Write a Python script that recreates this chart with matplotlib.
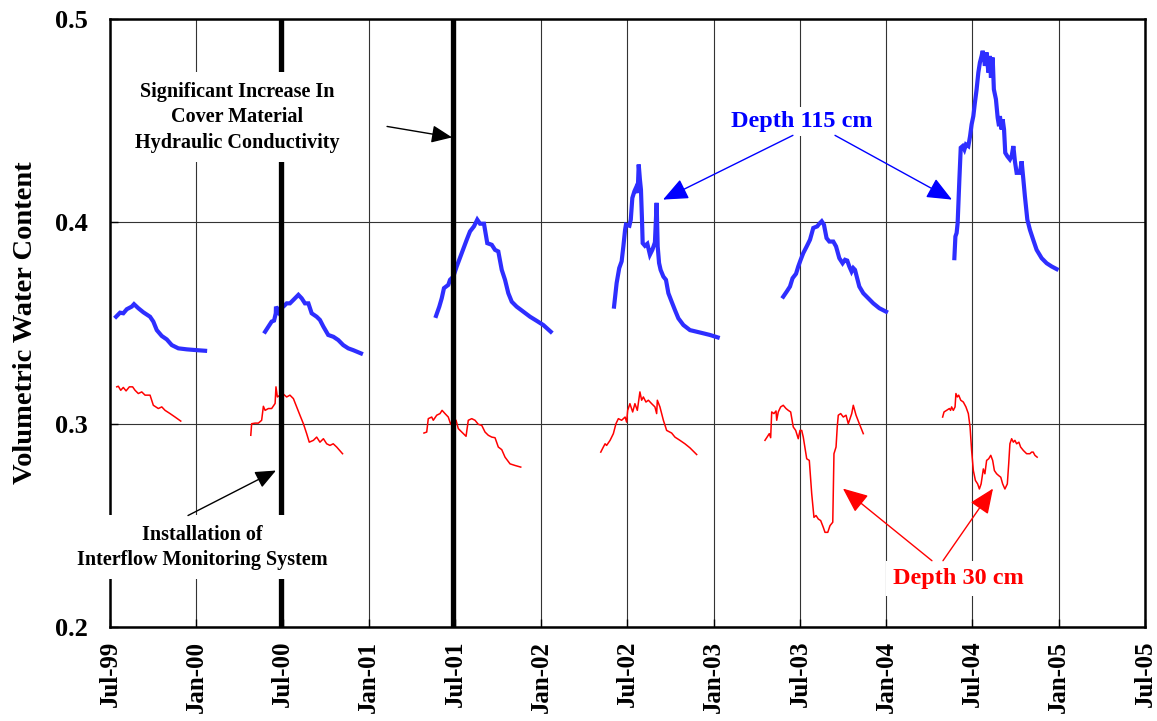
import matplotlib
matplotlib.use("Agg")
import matplotlib.pyplot as plt

plt.rcParams['font.family'] = ['Liberation Serif', 'DejaVu Serif']
plt.rcParams['font.weight'] = 'bold'

# time axis in decimal years, values are volumetric water content
tick_pos = [1999.5, 2000.0, 2000.5, 2001.0, 2001.5, 2002.0, 2002.5,
            2003.0, 2003.5, 2004.0, 2004.5, 2005.0, 2005.5]
tick_labels = ["Jul-99", "Jan-00", "Jul-00", "Jan-01", "Jul-01", "Jan-02", "Jul-02",
               "Jan-03", "Jul-03", "Jan-04", "Jul-04", "Jan-05", "Jul-05"]
event_x = [2000.49, 2001.49]

# depth 115 cm
deep_t_99 = [1999.535, 1999.558, 1999.577, 1999.597, 1999.626, 1999.639, 1999.664, 1999.693,
             1999.732, 1999.751, 1999.771, 1999.800, 1999.829, 1999.858, 1999.896, 1999.945,
             2000.003, 2000.051]
deep_v_99 = [0.3531, 0.3551, 0.3548, 0.3568, 0.3581, 0.3593, 0.3573, 0.3553,
             0.3531, 0.3507, 0.3465, 0.3436, 0.3419, 0.3391, 0.3375, 0.3370,
             0.3366, 0.3363]
deep_t_00 = [2000.399, 2000.418, 2000.437, 2000.451, 2000.461, 2000.462, 2000.476, 2000.486,
             2000.505, 2000.524, 2000.543, 2000.563, 2000.592, 2000.611, 2000.630, 2000.650,
             2000.669, 2000.698, 2000.717, 2000.737, 2000.765, 2000.795, 2000.823, 2000.852,
             2000.881, 2000.910, 2000.955]
deep_v_00 = [0.3457, 0.3482, 0.3507, 0.3512, 0.3548, 0.3581, 0.3556, 0.3573,
             0.3581, 0.3597, 0.3597, 0.3614, 0.3639, 0.3622, 0.3597, 0.3597,
             0.3548, 0.3531, 0.3515, 0.3482, 0.3441, 0.3432, 0.3416, 0.3391,
             0.3375, 0.3366, 0.3350]
deep_t_01 = [2001.390, 2001.409, 2001.423, 2001.436, 2001.461, 2001.471, 2001.490, 2001.510,
             2001.539, 2001.568, 2001.587, 2001.610, 2001.629, 2001.645, 2001.668, 2001.687,
             2001.713, 2001.732, 2001.751, 2001.771, 2001.790, 2001.809, 2001.829, 2001.857,
             2001.896, 2001.935, 2001.973, 2002.012, 2002.055]
deep_v_01 = [0.3535, 0.3581, 0.3622, 0.3672, 0.3688, 0.3713, 0.3729, 0.3779,
             0.3845, 0.3911, 0.3952, 0.3977, 0.4010, 0.3990, 0.3990, 0.3894,
             0.3886, 0.3861, 0.3853, 0.3762, 0.3713, 0.3647, 0.3605, 0.3581,
             0.3556, 0.3531, 0.3511, 0.3490, 0.3457]
deep_t_02 = [2002.422, 2002.437, 2002.452, 2002.466, 2002.476, 2002.486, 2002.491, 2002.511,
             2002.519, 2002.528, 2002.540, 2002.549, 2002.559, 2002.565, 2002.572, 2002.578,
             2002.584, 2002.588, 2002.601, 2002.615, 2002.630, 2002.644, 2002.659, 2002.669,
             2002.675, 2002.683, 2002.692, 2002.708, 2002.723, 2002.737, 2002.756, 2002.775,
             2002.795, 2002.824, 2002.862, 2002.901, 2002.940, 2002.978, 2003.023]
deep_v_02 = [0.3581, 0.3697, 0.3771, 0.3804, 0.3878, 0.3960, 0.3985, 0.3980,
             0.4010, 0.4117, 0.4150, 0.4167, 0.4142, 0.4282, 0.4208, 0.4158,
             0.4010, 0.3894, 0.3881, 0.3891, 0.3837, 0.3861, 0.3898, 0.4093,
             0.3878, 0.3796, 0.3762, 0.3729, 0.3713, 0.3647, 0.3605, 0.3564,
             0.3523, 0.3490, 0.3465, 0.3457, 0.3449, 0.3441, 0.3429]
deep_t_03 = [2003.403, 2003.423, 2003.442, 2003.457, 2003.477, 2003.490, 2003.504, 2003.519,
             2003.539, 2003.558, 2003.577, 2003.600, 2003.612, 2003.626, 2003.639, 2003.654,
             2003.670, 2003.693, 2003.709, 2003.728, 2003.747, 2003.761, 2003.774, 2003.786,
             2003.799, 2003.809, 2003.819, 2003.829, 2003.844, 2003.867, 2003.896, 2003.925,
             2003.960, 2003.999]
deep_v_03 = [0.3630, 0.3655, 0.3680, 0.3721, 0.3743, 0.3779, 0.3812, 0.3845,
             0.3878, 0.3911, 0.3969, 0.3977, 0.3990, 0.4002, 0.3985, 0.3919,
             0.3902, 0.3902, 0.3878, 0.3820, 0.3795, 0.3812, 0.3808, 0.3779,
             0.3754, 0.3771, 0.3762, 0.3729, 0.3680, 0.3647, 0.3622, 0.3597,
             0.3573, 0.3556]
deep_t_04 = [2004.395, 2004.401, 2004.408, 2004.414, 2004.424, 2004.432, 2004.443, 2004.453,
             2004.462, 2004.476, 2004.486, 2004.495, 2004.505, 2004.514, 2004.524, 2004.534,
             2004.543, 2004.553, 2004.559, 2004.566, 2004.572, 2004.582, 2004.592, 2004.601,
             2004.607, 2004.617, 2004.624, 2004.636, 2004.646, 2004.654, 2004.659, 2004.669,
             2004.675, 2004.683, 2004.690, 2004.702, 2004.717, 2004.727, 2004.737, 2004.746,
             2004.756, 2004.775, 2004.785, 2004.795, 2004.804, 2004.818, 2004.833, 2004.852,
             2004.872, 2004.901, 2004.930, 2004.959, 2004.988]
deep_v_04 = [0.3820, 0.3927, 0.3944, 0.3993, 0.4208, 0.4365, 0.4373, 0.4356,
             0.4381, 0.4373, 0.4422, 0.4480, 0.4521, 0.4587, 0.4653, 0.4736,
             0.4785, 0.4818, 0.4843, 0.4818, 0.4769, 0.4835, 0.4736, 0.4818,
             0.4711, 0.4810, 0.4653, 0.4604, 0.4513, 0.4471, 0.4521, 0.4455,
             0.4505, 0.4455, 0.4340, 0.4323, 0.4307, 0.4323, 0.4373, 0.4298,
             0.4241, 0.4241, 0.4298, 0.4208, 0.4125, 0.4010, 0.3960, 0.3911,
             0.3861, 0.3820, 0.3795, 0.3779, 0.3766]

# depth 30 cm
shallow_t_99 = [1999.539, 1999.548, 1999.562, 1999.577, 1999.593, 1999.612, 1999.631, 1999.645,
                1999.664, 1999.684, 1999.703, 1999.732, 1999.751, 1999.780, 1999.800, 1999.819,
                1999.848, 1999.877, 1999.910]
shallow_v_99 = [0.3185, 0.3188, 0.3168, 0.3182, 0.3165, 0.3185, 0.3185, 0.3168,
                0.3152, 0.3160, 0.3144, 0.3144, 0.3094, 0.3078, 0.3086, 0.3069,
                0.3053, 0.3036, 0.3016]
shallow_t_00 = [2000.316, 2000.321, 2000.341, 2000.360, 2000.379, 2000.389, 2000.399, 2000.418,
                2000.437, 2000.457, 2000.462, 2000.470, 2000.486, 2000.505, 2000.524, 2000.543,
                2000.563, 2000.582, 2000.601, 2000.621, 2000.640, 2000.655, 2000.679, 2000.698,
                2000.717, 2000.737, 2000.756, 2000.775, 2000.794, 2000.814, 2000.848]
shallow_v_00 = [0.2946, 0.3003, 0.3006, 0.3006, 0.3020, 0.3089, 0.3069, 0.3078,
                0.3078, 0.3103, 0.3185, 0.3135, 0.3144, 0.3149, 0.3135, 0.3144,
                0.3127, 0.3086, 0.3045, 0.3003, 0.2954, 0.2912, 0.2921, 0.2937,
                0.2912, 0.2929, 0.2904, 0.2896, 0.2904, 0.2888, 0.2855]
shallow_t_01 = [2001.320, 2001.336, 2001.345, 2001.365, 2001.374, 2001.394, 2001.413, 2001.425,
                2001.442, 2001.461, 2001.475, 2001.490, 2001.506, 2001.519, 2001.539, 2001.564,
                2001.577, 2001.597, 2001.616, 2001.635, 2001.655, 2001.674, 2001.693, 2001.713,
                2001.732, 2001.751, 2001.771, 2001.790, 2001.819, 2001.848, 2001.881]
shallow_v_01 = [0.2957, 0.2962, 0.3028, 0.3036, 0.3020, 0.3045, 0.3053, 0.3069,
                0.3053, 0.3036, 0.3000, 0.3028, 0.3020, 0.2979, 0.2962, 0.2941,
                0.3020, 0.3028, 0.3020, 0.3000, 0.2995, 0.2962, 0.2946, 0.2937,
                0.2934, 0.2888, 0.2875, 0.2838, 0.2805, 0.2797, 0.2789]
shallow_t_02 = [2002.345, 2002.360, 2002.370, 2002.379, 2002.399, 2002.418, 2002.433, 2002.447,
                2002.466, 2002.486, 2002.495, 2002.501, 2002.514, 2002.530, 2002.543, 2002.557,
                2002.572, 2002.582, 2002.592, 2002.607, 2002.621, 2002.640, 2002.659, 2002.669,
                2002.673, 2002.688, 2002.708, 2002.727, 2002.756, 2002.775, 2002.804, 2002.833,
                2002.862, 2002.901]
shallow_v_02 = [0.2863, 0.2888, 0.2904, 0.2896, 0.2921, 0.2954, 0.3003, 0.3028,
                0.3020, 0.3036, 0.3011, 0.3069, 0.3102, 0.3061, 0.3102, 0.3069,
                0.3160, 0.3119, 0.3135, 0.3110, 0.3119, 0.3102, 0.3086, 0.3053,
                0.3119, 0.3086, 0.3020, 0.2970, 0.2957, 0.2937, 0.2921, 0.2904,
                0.2884, 0.2851]
shallow_t_03 = [2003.297, 2003.307, 2003.322, 2003.330, 2003.336, 2003.349, 2003.361, 2003.365,
                2003.374, 2003.388, 2003.403, 2003.419, 2003.432, 2003.446, 2003.461, 2003.475,
                2003.490, 2003.500, 2003.510, 2003.519, 2003.539, 2003.554, 2003.568, 2003.581,
                2003.593, 2003.606, 2003.620, 2003.635, 2003.645, 2003.661, 2003.674, 2003.690,
                2003.697, 2003.709, 2003.716, 2003.722, 2003.736, 2003.751, 2003.767, 2003.780,
                2003.790, 2003.800, 2003.809, 2003.825, 2003.844, 2003.867]
shallow_v_03 = [0.2921, 0.2934, 0.2954, 0.2934, 0.3061, 0.3053, 0.3066, 0.3020,
                0.3061, 0.3086, 0.3094, 0.3078, 0.3069, 0.3061, 0.2987, 0.2970,
                0.2929, 0.2970, 0.2970, 0.2937, 0.2830, 0.2822, 0.2657, 0.2541,
                0.2550, 0.2533, 0.2525, 0.2492, 0.2467, 0.2467, 0.2500, 0.2517,
                0.2855, 0.2888, 0.2987, 0.3045, 0.3053, 0.3036, 0.3045, 0.3003,
                0.3028, 0.3053, 0.3094, 0.3045, 0.3003, 0.2954]
shallow_t_04 = [2004.327, 2004.335, 2004.350, 2004.366, 2004.373, 2004.379, 2004.389, 2004.399,
                2004.404, 2004.412, 2004.420, 2004.432, 2004.447, 2004.462, 2004.476, 2004.486,
                2004.495, 2004.505, 2004.517, 2004.530, 2004.540, 2004.550, 2004.563, 2004.572,
                2004.582, 2004.594, 2004.606, 2004.617, 2004.627, 2004.640, 2004.652, 2004.664,
                2004.675, 2004.688, 2004.702, 2004.710, 2004.717, 2004.727, 2004.737, 2004.746,
                2004.756, 2004.769, 2004.779, 2004.795, 2004.814, 2004.833, 2004.843, 2004.852,
                2004.862, 2004.875]
shallow_v_04 = [0.3036, 0.3061, 0.3069, 0.3078, 0.3069, 0.3086, 0.3069, 0.3086,
                0.3152, 0.3135, 0.3144, 0.3119, 0.3110, 0.3086, 0.3053, 0.2987,
                0.2871, 0.2772, 0.2723, 0.2706, 0.2681, 0.2706, 0.2780, 0.2756,
                0.2822, 0.2830, 0.2847, 0.2822, 0.2772, 0.2756, 0.2747, 0.2739,
                0.2706, 0.2681, 0.2706, 0.2805, 0.2904, 0.2929, 0.2912, 0.2921,
                0.2904, 0.2912, 0.2888, 0.2871, 0.2855, 0.2855, 0.2863, 0.2863,
                0.2847, 0.2838]

deep_t = [deep_t_99, deep_t_00, deep_t_01, deep_t_02, deep_t_03, deep_t_04]
deep_v = [deep_v_99, deep_v_00, deep_v_01, deep_v_02, deep_v_03, deep_v_04]
shallow_t = [shallow_t_99, shallow_t_00, shallow_t_01, shallow_t_02, shallow_t_03, shallow_t_04]
shallow_v = [shallow_v_99, shallow_v_00, shallow_v_01, shallow_v_02, shallow_v_03, shallow_v_04]

fig = plt.figure(figsize=(11.57, 7.21), dpi=100)
ax = fig.add_axes([0.0951, 0.1304, 0.8945, 0.8432])

for t, v in zip(deep_t, deep_v):
    ax.plot(t, v, color="#2e2eff", lw=3.0, zorder=3, solid_joinstyle="miter")
for t, v in zip(shallow_t, shallow_v):
    ax.plot(t, v, color="#ff0000", lw=1.1, zorder=3)

for x in event_x:
    ax.axvline(x, color="black", lw=3.8, zorder=4)

ax.set_xlim(1999.5, 2005.5)
ax.set_ylim(0.2, 0.5)
ax.set_xticks(tick_pos)
ax.set_xticklabels(tick_labels, rotation=90, fontsize=18, fontweight="bold")
ax.set_yticks([0.2, 0.3, 0.4, 0.5])
ax.set_yticklabels(["0.2", "0.3", "0.4", "0.5"], fontsize=19, fontweight="bold")
ax.tick_params(axis="both", direction="in", length=6, width=1, color="black")
ax.tick_params(axis="x", pad=10)
ax.tick_params(axis="y", pad=16)
ax.grid(True, color="#333333", lw=0.8)
ax.set_axisbelow(True)
for s in ax.spines.values():
    s.set_linewidth(1.8)
    s.set_color("black")

ax.set_ylabel("Volumetric Water Content", fontsize=20.5, fontweight="bold", labelpad=12)

box = dict(facecolor="white", edgecolor="none", pad=7)
head = dict(arrowstyle="-|>,head_length=0.7,head_width=0.3", color="black",
            lw=1.0, shrinkA=0, shrinkB=0, mutation_scale=18)

ax.text(2000.236, 0.4515, "Significant Increase In\nCover Material\nHydraulic Conductivity",
        ha="center", va="center", fontsize=14.5, fontweight="bold", linespacing=1.35,
        bbox=box, zorder=6)
ax.annotate("", xy=(2001.483, 0.4416), xytext=(2001.106, 0.447), arrowprops=head, zorder=6)

ax.text(2000.033, 0.2394, "Installation of\nInterflow Monitoring System",
        ha="center", va="center", fontsize=14.5, fontweight="bold", linespacing=1.35,
        bbox=box, zorder=6, clip_on=False)
ax.annotate("", xy=(2000.462, 0.2772), xytext=(1999.952, 0.255), arrowprops=head, zorder=6)

ax.text(2003.512, 0.4495, "Depth 115 cm", ha="center", va="center", color="#0000ff",
        fontsize=17.5, fontweight="bold", bbox=dict(facecolor="white", edgecolor="none", pad=3),
        zorder=6)
blue_head = dict(head, color="#0000ff", mutation_scale=22)
ax.annotate("", xy=(2002.706, 0.4109), xytext=(2003.459, 0.4426), arrowprops=blue_head, zorder=6)
ax.annotate("", xy=(2004.381, 0.4109), xytext=(2003.703, 0.4426), arrowprops=blue_head, zorder=6)

ax.text(2004.416, 0.2238, "Depth 30 cm", ha="center", va="center", color="#ff0000",
        fontsize=17.5, fontweight="bold", bbox=dict(facecolor="white", edgecolor="none", pad=5),
        zorder=6)
red_head = dict(head, color="#ff0000", mutation_scale=22)
ax.annotate("", xy=(2003.749, 0.2683), xytext=(2004.265, 0.2327), arrowprops=red_head, zorder=6)
ax.annotate("", xy=(2004.619, 0.2683), xytext=(2004.329, 0.2327), arrowprops=red_head, zorder=6)

fig.savefig("out.png", dpi=100)
